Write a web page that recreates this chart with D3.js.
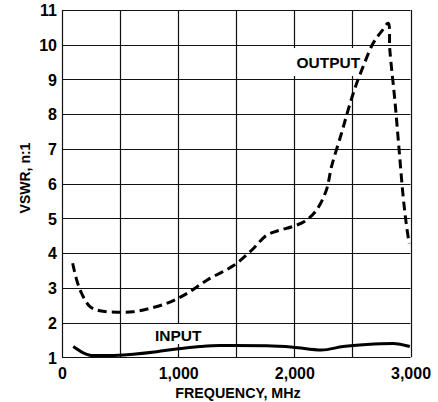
<!DOCTYPE html>
<html>
<head>
<meta charset="utf-8">
<script src="https://cdn.jsdelivr.net/npm/d3@7"></script>
<style>
  html, body { margin: 0; padding: 0; background: #fff; }
  svg { display: block; }
  text { font-family: "Liberation Sans", Arial, Helvetica, sans-serif; font-weight: bold; fill: #000; }
</style>
</head>
<body>
<svg id="chart" width="438" height="402"></svg>
<script>
// ---- data ----
const xTicks = [0, 500, 1000, 1500, 2000, 2500, 3000];
const xTickLabels = ["0", "", "1,000", "", "2,000", "", "3,000"];
const yTicks = [1, 2, 3, 4, 5, 6, 7, 8, 9, 10, 11];

const outputFreq = [92, 126, 169, 241, 327, 470, 613, 757, 900, 1000, 1087, 1247, 1480, 1635, 1764, 1875, 1979, 2091, 2191, 2276, 2320, 2406, 2463, 2521, 2592, 2678, 2759, 2808, 2822, 2865, 2902, 2937, 2963, 2988];
const outputVswr = [3.71, 3.23, 2.84, 2.46, 2.34, 2.30, 2.31, 2.41, 2.55, 2.70, 2.86, 3.22, 3.65, 4.09, 4.52, 4.66, 4.76, 4.92, 5.24, 5.82, 6.49, 7.45, 8.12, 8.74, 9.37, 10.04, 10.42, 10.62, 9.85, 8.41, 6.97, 5.62, 4.86, 4.28];

const inputFreq = [97, 183, 269, 413, 613, 815, 987, 1188, 1359, 1474, 1761, 1990, 2234, 2420, 2621, 2850, 2994];
const inputVswr = [1.31, 1.13, 1.05, 1.05, 1.09, 1.16, 1.24, 1.31, 1.34, 1.34, 1.33, 1.29, 1.21, 1.31, 1.37, 1.40, 1.31];

const outputLabel = "OUTPUT";
const inputLabel = "INPUT";
const xTitle = "FREQUENCY, MHz";
const yTitle = "VSWR, n:1";

// ---- drawing ----
const svg = d3.select("#chart");
const x = d3.scaleLinear().domain([0, 3000]).range([62, 410.5]);
const y = d3.scaleLinear().domain([1, 11]).range([357.3, 10]);

const g = svg.append("g");

// grid
g.selectAll("line.v").data(xTicks).enter().append("line")
  .attr("x1", d => Math.round(x(d)) + 0.5).attr("x2", d => Math.round(x(d)) + 0.5)
  .attr("y1", y(11)).attr("y2", y(1))
  .attr("stroke", "#111").attr("stroke-width", 1.2);
g.selectAll("line.h").data(yTicks).enter().append("line")
  .attr("y1", d => Math.round(y(d)) + 0.5).attr("y2", d => Math.round(y(d)) + 0.5)
  .attr("x1", x(0)).attr("x2", x(3000))
  .attr("stroke", "#111").attr("stroke-width", 1.2);

// axes labels via d3 axes (no domain / tick lines)
const xAxis = d3.axisBottom(x).tickValues(xTicks).tickSize(0).tickPadding(0)
  .tickFormat((d, i) => xTickLabels[i]);
const gx = svg.append("g").attr("transform", `translate(0, ${y(1)})`).call(xAxis);
gx.select(".domain").remove();
gx.selectAll("text").attr("font-size", 16).attr("dy", null).attr("y", 21.5)
  .attr("font-family", "Liberation Sans, Arial, sans-serif").attr("font-weight", "bold").attr("fill", "#000");

const yAxis = d3.axisLeft(y).tickValues(yTicks).tickSize(0).tickPadding(5)
  .tickFormat(d3.format("d"));
const gy = svg.append("g").attr("transform", `translate(${x(0)}, 0)`).call(yAxis);
gy.select(".domain").remove();
gy.selectAll("text").attr("font-size", 16).attr("dy", "0.36em")
  .attr("font-family", "Liberation Sans, Arial, sans-serif").attr("font-weight", "bold").attr("fill", "#000");

// titles
svg.append("text").attr("x", 238).attr("y", 398).attr("text-anchor", "middle")
  .attr("font-size", 14.3).text(xTitle);
svg.append("text").attr("transform", `translate(30, 178) rotate(-90)`).attr("text-anchor", "middle")
  .attr("font-size", 14).text(yTitle);

const outData = outputFreq.map((f, i) => [f, outputVswr[i]]);
const inData = inputFreq.map((f, i) => [f, inputVswr[i]]);

// label backgrounds
svg.append("rect").attr("x", 291).attr("y", 48).attr("width", 72).attr("height", 28).attr("fill", "#fff");
svg.append("rect").attr("x", 151).attr("y", 324).attr("width", 54).attr("height", 20).attr("fill", "#fff");

svg.append("path").datum(outData)
  .attr("d", d3.line().x(d => x(d[0])).y(d => y(d[1])).curve(d3.curveCatmullRom.alpha(0.5)))
  .attr("fill", "none").attr("stroke", "#000").attr("stroke-width", 3)
  .attr("stroke-dasharray", "9,5");
svg.append("path").datum(inData)
  .attr("d", d3.line().x(d => x(d[0])).y(d => y(d[1])).curve(d3.curveMonotoneX))
  .attr("fill", "none").attr("stroke", "#000").attr("stroke-width", 3);

svg.append("text").attr("x", 296.5).attr("y", 68).attr("font-size", 15.5).text(outputLabel);
svg.append("text").attr("x", 155).attr("y", 340.5).attr("font-size", 15.5).text(inputLabel);
</script>
</body>
</html>
